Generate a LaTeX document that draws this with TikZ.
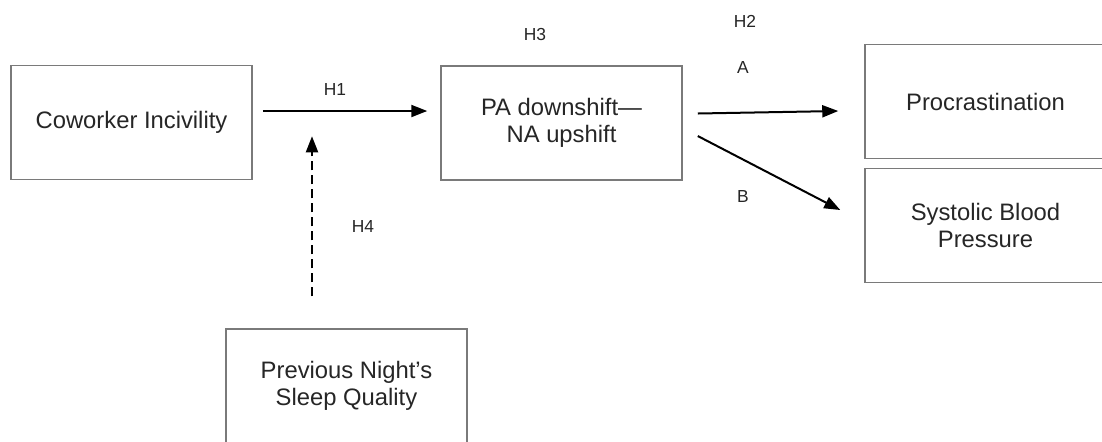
\documentclass[tikz,border=0pt]{standalone}
\usepackage{fontspec}
\setmainfont{Liberation Sans}
\usetikzlibrary{arrows.meta}
\definecolor{boxgray}{HTML}{7A7A7A}
\definecolor{textgray}{HTML}{262626}
\tikzset{
  box/.style={draw=boxgray, line width=0.75pt, minimum width=120.5pt,
    minimum height=57pt, align=center, inner sep=0pt, text=textgray,
    font=\fontsize{11.9}{13.5}\selectfont},
  link/.style={line width=1pt, -{Triangle[length=8pt,width=6pt]}},
  tag/.style={font=\fontsize{8.7}{10}\selectfont, text=textgray, inner sep=0pt},
}
\begin{document}
\begin{tikzpicture}[x=0.5pt, y=-0.5pt]
  \fill[white] (0,0) rectangle (1102,441);
  \useasboundingbox (0,0) rectangle (1102,441);
  \clip (0,0) rectangle (1102,441);

  % variables
  \node[box] (cw)   at (131.5,122.5) {Coworker Incivility};
  \node[box] (pa)   at (561.5,123)   {PA downshift—\\NA upshift};
  \node[box] (proc) at (985.5,101.5) {Procrastination};
  \node[box] (sbp)  at (985.5,225.5) {Systolic Blood\\Pressure};
  \node[box] (sleep) at (346.5,386)  {Previous Night’s\\Sleep Quality};

  % paths
  \coordinate (h1s) at ([shift={(10,-11.5)}]cw.east);
  \coordinate (h1e) at ([shift={(-13,-12)}]pa.west);
  \draw[link] (h1s) -- (h1e);
  \draw[link] ([shift={(15,-9.5)}]pa.east) -- ([shift={(-26,9.5)}]proc.west);
  \draw[link] ([shift={(15,13)}]pa.east) -- ([shift={(-24,-15.5)}]sbp.west);
  \draw[link, dash pattern=on 4.5pt off 2.5pt] ([shift={(-34.5,-32)}]sleep.north)
    -- ([shift={(-34.5,-192)}]sleep.north);

  % hypothesis labels
  \node[tag] (lh1) at (335,90)  {H1};
  \node[tag] (lh3) at (535,35)  {H3};
  \node[tag] (lh2) at (745,21)  {H2};
  \node[tag] (la)  at (743,68)  {A};
  \node[tag] (lb)  at (743,197) {B};
  \node[tag] (lh4) at (363,227) {H4};
\end{tikzpicture}
\end{document}
